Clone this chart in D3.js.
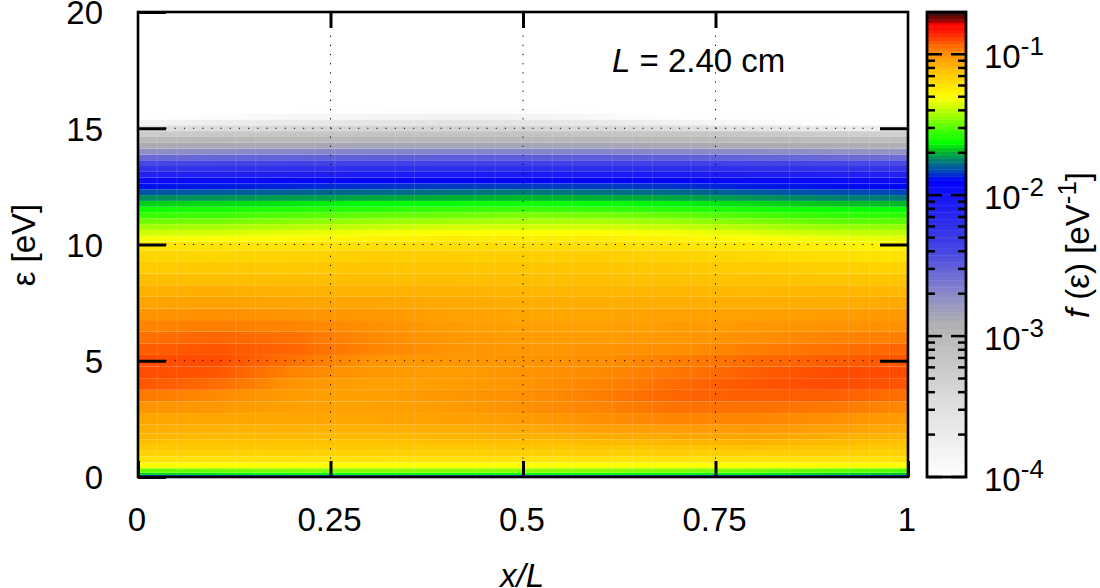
<!DOCTYPE html>
<html><head><meta charset="utf-8">
<script src="https://cdn.jsdelivr.net/npm/d3@7"></script>
<style>
html,body{margin:0;padding:0;background:#fff}
svg{display:block}
text{font-family:"Liberation Sans",Arial,sans-serif;fill:#000}
</style></head><body>
<div id="chart"></div>
<script>
// Positions along the discharge (x/L) for each column of readings
const xPositions = [0, .1, .2, .3, .4, .5, .6, .7, .8, .9, 1];
// Energy of each row (eV)
const energies = [.04, .12, .25, .5, .75, 1, 1.25, 1.5, 1.75, 2, 2.5, 3, 3.5, 4, 4.5, 5, 5.5, 6, 6.5, 7, 7.5, 8, 8.5, 9, 9.5, 10,
  10.25, 10.5, 10.75, 11, 11.25, 11.5, 11.75, 12, 12.25, 12.5, 12.75, 13, 13.25, 13.5, 13.75, 14, 14.25, 14.5, 14.75, 15, 15.25, 15.5, 15.75];
// -100*log10 f(eps); one row per energy, one entry per x position
const fRows = [
 [190,190,188,188,188,188,188,188,188,190,190],
 [166,165,163,162,162,162,162,163,164,166,168],
 [150,149,147,146,146,146,146,147,148,150,152],
 [130,130,130,131,131,131,131,131,131,130,130],
 [122,122,122,122,122,122,122,122,122,122,122],
 [117,117,117,117,116,116,116,116,116,116,117],
 [114,114,114,114,114,113,113,113,112,113,114],
 [111,112,112,112,111,111,110,109,108,110,112],
 [109,110,110,110,109,108,107,106,105,107,109],
 [107,108,108,108,107,106,104,103,102,104,106],
 [105,105,105,105,104,103,100, 98, 98,100,103],
 [101,102,104,104,103,100, 98, 95, 95, 96, 99],
 [ 96, 99,103,104,102,100, 97, 93, 92, 92, 95],
 [ 91, 94,101,104,103,101, 98, 94, 91, 90, 91],
 [ 90, 91, 98,102,103,101, 99, 96, 92, 90, 90],
 [ 90, 90, 95,101,102,101,100, 97, 94, 92, 91],
 [ 92, 91, 93, 98,101,102,101,100, 97, 95, 93],
 [ 95, 93, 95, 99,102,103,103,102,100, 98, 97],
 [ 98, 97, 98,100,103,104,104,103,102,101,100],
 [101,100,101,102,104,105,105,104,104,103,102],
 [105,104,105,105,106,107,107,107,107,107,106],
 [108,107,108,108,108,109,109,109,110,109,110],
 [111,111,111,111,111,111,111,112,112,113,113],
 [115,114,114,113,113,113,113,114,115,116,117],
 [118,118,117,116,116,116,116,117,119,121,122],
 [123,122,122,121,120,120,120,122,124,126,127],
 [132,131,129,127,125,125,125,127,130,133,134],
 [137,136,134,132,130,130,130,132,135,138,139],
 [143,142,140,138,136,136,136,138,141,144,145],
 [149,148,146,144,143,142,142,144,147,150,151],
 [155,154,152,150,149,147,148,150,153,156,157],
 [161,160,158,157,155,154,155,157,160,162,163],
 [167,166,165,163,162,161,162,164,166,168,169],
 [174,173,172,171,170,169,170,171,173,175,176],
 [181,180,179,178,177,176,177,178,180,182,183],
 [188,187,186,185,184,184,184,185,187,188,189],
 [195,194,193,192,192,192,192,192,193,194,195],
 [210,209,208,206,205,205,205,205,207,209,210],
 [224,223,221,220,220,220,219,219,221,223,225],
 [240,238,236,235,235,235,235,235,237,239,241],
 [256,254,252,251,250,250,250,251,253,255,257],
 [273,271,269,268,268,268,268,269,271,273,275],
 [289,287,286,285,285,285,285,286,288,290,292],
 [303,301,300,300,300,300,300,301,303,305,307],
 [325,320,316,315,314,314,315,317,320,326,330],
 [350,344,340,337,335,336,340,346,356,368,376],
 [385,372,366,360,356,358,366,378,390,398,400],
 [400,395,388,384,380,382,390,398,400,400,400],
 [400,400,400,398,394,396,400,400,400,400,400]
];
// Palette stops: f(eps) value on the colour bar and its colour
const paletteF = [1e-4, 10**-3.454, 1e-3, 10**-2.887, 10**-2.709, 10**-2.532, 10**-2.39, 1e-2, 10**-1.894, 10**-1.837, 10**-1.752, 10**-1.681, 10**-1.631, 10**-1.539, 10**-1.433, 10**-1.305, 10**-1.113, 1e-1, 10**-.922, 10**-.851, 10**-.78, 10**-.759, 10**-.7];
const paletteColors = ["#ffffff","#dcdcdc","#b8b8b8","#acacb4","#8c8cc8","#6464d8","#4545e4","#1414f4","#0000ff","#0040c0","#008070","#00c020","#00ff00","#40ff00","#a0ff00","#ffff00","#ffc000","#ff9000","#ff6000","#ff2000","#ff0000","#8b0000","#301010"];
// Axis ticks
const xTicks = [0, .25, .5, .75, 1];
const xTickLabels = ["0", "0.25", "0.5", "0.75", "1"];
const yTicks = [0, 5, 10, 15, 20];
const gridX = [.25, .5, .75];
const gridY = [5, 10, 15];
const cbMajor = [1e-4, 1e-3, 1e-2, 1e-1];
const cbExponents = ["-4", "-3", "-2", "-1"];
const cbMinor = [2e-4,3e-4,4e-4,5e-4,6e-4,7e-4,8e-4,9e-4,2e-3,3e-3,4e-3,5e-3,6e-3,7e-3,8e-3,9e-3,2e-2,3e-2,4e-2,5e-2,6e-2,7e-2,8e-2,9e-2];
// Faint seams between the plotted blocks (x/L)
const seamX = [.0247,.0506,.1273,.153,.2299,.2558,.334,.359,.4377,.4636,.512,.538,.564,.616,.642,.668,.718,.743,.846,.923,.95,.976];

const W = 1100, H = 588;
const plot = {l:138, r:908, t:12, b:477};
const cb = {l:927, r:966};
const fs = 33, supFs = 26;
const svg = d3.select("#chart").append("svg").attr("width",W).attr("height",H).attr("viewBox",`0 0 ${W} ${H}`);
const x = d3.scaleLinear().domain([0,1]).range([plot.l,plot.r]);
const y = d3.scaleLinear().domain([0,20]).range([plot.b,plot.t]);
const cy = d3.scaleLog().domain([1e-4,10**-.7]).range([plot.b,plot.t]);
const color = d3.scaleLog().domain(paletteF).range(paletteColors).interpolate(d3.interpolateRgb).clamp(true);

// Heat map: one band per energy row, coloured along x by its readings
const defs = svg.append("defs");
defs.append("clipPath").attr("id","plotClip").append("rect")
  .attr("x",plot.l).attr("y",plot.t).attr("width",plot.r-plot.l).attr("height",plot.b-plot.t);
const edge = i => i<=0 ? 0 : i>=energies.length ? energies[energies.length-1]+.125 : (energies[i-1]+energies[i])/2;
const grads = defs.selectAll("linearGradient").data(fRows).join("linearGradient")
  .attr("id",(d,i)=>"row"+i).attr("gradientUnits","userSpaceOnUse")
  .attr("x1",x(0)).attr("x2",x(1)).attr("y1",0).attr("y2",0);
grads.selectAll("stop").data(d=>d).join("stop")
  .attr("offset",(d,i)=>xPositions[i])
  .attr("stop-color",d=>color(10**(-d/100)));
const heat = svg.append("g").attr("clip-path","url(#plotClip)");
heat.selectAll("rect").data(fRows).join("rect")
  .attr("x",x(0)).attr("width",x(1)-x(0))
  .attr("y",(d,i)=>y(edge(i+1)))
  .attr("height",(d,i)=>y(edge(i))-y(edge(i+1)))
  .attr("fill",(d,i)=>`url(#row${i})`);
heat.selectAll("line.seam").data(seamX).join("line").attr("class","seam")
  .attr("x1",d=>x(d)).attr("x2",d=>x(d)).attr("y1",y(edge(energies.length))).attr("y2",plot.b)
  .attr("stroke","#fff").attr("stroke-opacity",.13).attr("stroke-width",1);

// Dotted grid
const g = svg.append("g").attr("stroke","#000").attr("stroke-width",1).attr("stroke-dasharray","1.2 7.97");
g.selectAll("line.gx").data(gridX).join("line").attr("class","gx")
  .attr("x1",d=>x(d)).attr("x2",d=>x(d)).attr("y1",plot.b).attr("y2",plot.t);
g.selectAll("line.gy").data(gridY).join("line").attr("class","gy")
  .attr("x1",plot.l).attr("x2",plot.r).attr("y1",d=>y(d)).attr("y2",d=>y(d));

// Axes
function styleAxis(sel){
  sel.select(".domain").remove();
  sel.selectAll("line").attr("stroke","#000").attr("stroke-width",3);
  sel.selectAll("text").attr("font-size",fs).attr("font-family","Liberation Sans, Arial, sans-serif").attr("fill","#000");
}
const axB = svg.append("g").attr("transform",`translate(0,${plot.b})`)
  .call(d3.axisBottom(x).tickValues(xTicks).tickFormat((d,i)=>xTickLabels[i]).tickSizeInner(-16).tickSizeOuter(0)).call(styleAxis);
axB.selectAll("text").attr("x",-1.5).attr("y",54).attr("dy",0);
const axT = svg.append("g").attr("transform",`translate(0,${plot.t})`)
  .call(d3.axisTop(x).tickValues(xTicks.slice(1,-1)).tickFormat("").tickSizeInner(-16).tickSizeOuter(0)).call(styleAxis);
const axL = svg.append("g").attr("transform",`translate(${plot.l},0)`)
  .call(d3.axisLeft(y).tickValues(yTicks).tickFormat(d3.format("d")).tickSizeInner(-28).tickSizeOuter(0).tickPadding(35)).call(styleAxis);
axL.selectAll("text").attr("dy","0.36em");
const axR = svg.append("g").attr("transform",`translate(${plot.r},0)`)
  .call(d3.axisRight(y).tickValues(yTicks.slice(1,-1)).tickFormat("").tickSizeInner(-28).tickSizeOuter(0)).call(styleAxis);

// Frame
svg.append("rect").attr("x",plot.l).attr("y",plot.t).attr("width",plot.r-plot.l).attr("height",plot.b-plot.t)
  .attr("fill","none").attr("stroke","#000").attr("stroke-width",2.6);

// Colour bar
const levels = d3.range(0,130).map(i=>10**(-4+3.3*i/130));
const edgeC = i=>-4+3.3*i/130;
svg.append("g").selectAll("rect").data(levels).join("rect")
  .attr("x",cb.l).attr("width",cb.r-cb.l)
  .attr("y",(d,i)=>cy(10**edgeC(i+1)))
  .attr("height",(d,i)=>cy(10**edgeC(i))-cy(10**edgeC(i+1))+.4)
  .attr("fill",(d,i)=>color(10**((edgeC(i)+edgeC(i+1))/2)));
const cbt = svg.append("g").attr("stroke","#000").attr("stroke-width",2.5);
[[cbMajor,15],[cbMinor,8]].forEach(([vals,len])=>{
  cbt.append("g").selectAll("line").data(vals).join("line")
    .attr("x1",cb.l).attr("x2",cb.l+len).attr("y1",d=>cy(d)).attr("y2",d=>cy(d));
  cbt.append("g").selectAll("line").data(vals).join("line")
    .attr("x1",cb.r-len).attr("x2",cb.r).attr("y1",d=>cy(d)).attr("y2",d=>cy(d));
});
svg.append("rect").attr("x",cb.l).attr("y",plot.t).attr("width",cb.r-cb.l).attr("height",plot.b-plot.t)
  .attr("fill","none").attr("stroke","#000").attr("stroke-width",2.8);
const cbl = svg.append("g").selectAll("text").data(cbMajor).join("text")
  .attr("x",984).attr("y",d=>cy(d)+13.5).attr("font-size",fs);
cbl.append("tspan").text("10");
cbl.append("tspan").attr("dy",-13).attr("font-size",supFs).text((d,i)=>cbExponents[i]);

// Labels
svg.append("text").attr("x",612).attr("y",72).attr("font-size",fs)
  .html('<tspan font-style="italic">L</tspan> = 2.40 cm');
svg.append("text").attr("x",522).attr("y",587).attr("text-anchor","middle").attr("font-size",fs).attr("font-style","italic").text("x/L");
svg.append("text").attr("transform","translate(35,245) rotate(-90)").attr("text-anchor","middle").attr("font-size",fs).text("ε [eV]");
svg.append("text").attr("transform","translate(1089,245) rotate(-90)").attr("text-anchor","middle").attr("font-size",fs)
  .html(`<tspan font-style="italic">f</tspan> (ε) [eV<tspan dy="-13" font-size="${supFs}">-1</tspan><tspan dy="13">]</tspan>`);
</script>
</body></html>
